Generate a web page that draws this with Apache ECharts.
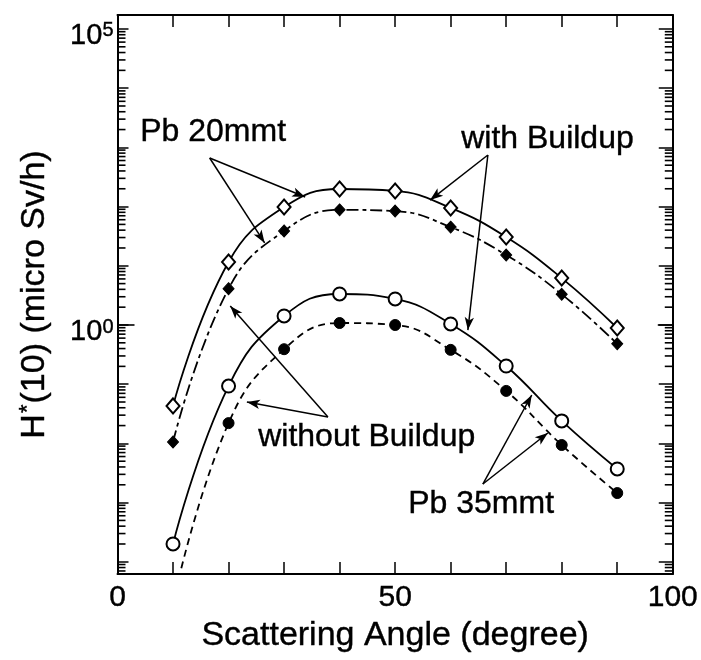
<!DOCTYPE html>
<html>
<head>
<meta charset="utf-8">
<script src="https://cdn.jsdelivr.net/npm/echarts@6/dist/echarts.min.js"></script>
<style>
  html, body { margin: 0; padding: 0; background: #fff; }
  #chart { width: 701px; height: 660px; }
</style>
</head>
<body>
<div id="chart"></div>
<script>
// Scattering angle (degree)
const angles = [10, 20, 30, 40, 50, 60, 70, 80, 90];

// H*(10) dose rate (micro Sv/h)
const pb20With    = [0.043, 11.6, 98, 198, 184, 95, 30.6, 6.2, 0.89];
const pb20Without = [0.0106, 4.1, 38.7, 88, 84, 45, 15.2, 3.3, 0.48];
const pb35With    = [2.0e-4, 0.093, 1.42, 3.34, 2.75, 1.04, 0.203, 0.024, 0.0037];
const pb35Without = [2.0e-5, 0.022, 0.39, 1.08, 1.0, 0.38, 0.077, 0.0094, 0.00145];

// Axis labels
const xTickLabels = [0, 50, 100];
const yTickLabels = [1, 1e5];

// Callout arrows: [fromAngle, fromValue, toAngle, toValue]
const arrowsPb20    = [[16.6, 662, 33.8, 145], [16.6, 662, 26.5, 24.3]];
const arrowsWith    = [[66.7, 744, 56.3, 129], [66.7, 744, 63.1, 0.82]];
const arrowsWithout = [[37.9, 0.028, 20.3, 2.09], [37.9, 0.028, 23.3, 0.05]];
const arrowsPb35    = [[65.8, 0.00206, 74.6, 0.0657], [65.8, 0.00206, 77.5, 0.015]];

const FONT = '"Liberation Sans", Arial, Helvetica, sans-serif';
const INK = { color: '#000', textBorderColor: '#000', textBorderWidth: 0.4 };
const Y_MIN = Math.pow(10, -4.206);
const Y_MAX = Math.pow(10, 5.236);

const decades = [];
const minors = [];
for (let n = -5; n <= 5; n++) {
  decades.push(Math.pow(10, n));
  for (let k = 2; k <= 9; k++) {
    const v = k * Math.pow(10, n);
    if (v > Y_MIN && v < Y_MAX) minors.push(v);
  }
}

function pairs(ys) { return angles.map((a, i) => [a, ys[i]]); }

function arrowData(list) {
  return list.map(a => [
    { coord: [a[0], a[1]], symbol: 'none' },
    { coord: [a[2], a[3]], symbol: 'arrow', symbolSize: [7, 13] }
  ]);
}

function yAx(pos, len) {
  return {
    type: 'log', logBase: 10, min: Y_MIN, max: Y_MAX, position: pos,
    splitLine: { show: false },
    axisLabel: { show: false },
    axisLine: { show: true, onZero: false, lineStyle: { color: '#000', width: 2 } },
    axisTick: { show: true, inside: true, length: len, customValues: decades,
                lineStyle: { color: '#000', width: 1.5 } }
  };
}

function xAx(pos) {
  return {
    type: 'value', position: pos, min: 0, max: 100, interval: 10,
    axisLine: { show: true, onZero: false, lineStyle: { color: '#000', width: 2 } },
    axisTick: { show: true, inside: true, length: 12, lineStyle: { color: '#000', width: 1.5 } },
    splitLine: { show: false },
    axisLabel: { show: false }
  };
}

const chart = echarts.init(document.getElementById('chart'), null, { renderer: 'canvas' });

const lineCommon = {
  type: 'line', smooth: 0.45, clip: true, xAxisIndex: 0, yAxisIndex: 0,
  z: 3, animation: false
};

const leftMain = yAx('left', 11);
leftMain.axisLabel = {
  show: true, customValues: yTickLabels, margin: 4, padding: [14, 0, 0, 0],
  formatter: v => '{b|10}{s|' + Math.round(Math.log10(v)) + '}',
  rich: {
    b: Object.assign({ fontSize: 29, lineHeight: 30, fontFamily: FONT }, INK),
    s: Object.assign({ fontSize: 20, lineHeight: 20, fontFamily: FONT,
         verticalAlign: 'top', padding: [0, 0, 26, 0] }, INK)
  }
};
leftMain.name = '{m|H}{s|*}{m|(10) (micro Sv/h)}';
leftMain.nameLocation = 'middle';
leftMain.nameGap = 62;
leftMain.nameTextStyle = {
  rich: {
    m: Object.assign({ fontSize: 34, lineHeight: 36, fontFamily: FONT }, INK),
    s: Object.assign({ fontSize: 22, lineHeight: 20, fontFamily: FONT,
         verticalAlign: 'top', padding: [0, 1, 20, 1] }, INK)
  }
};

const bottomMain = xAx('bottom');
bottomMain.axisLabel = Object.assign({
  show: true, margin: 9, fontSize: 30, fontFamily: FONT,
  showMinLabel: true, showMaxLabel: true,
  formatter: v => (xTickLabels.indexOf(v) >= 0 ? String(v) : '')
}, INK);
bottomMain.name = 'Scattering Angle (degree)';
bottomMain.nameLocation = 'middle';
bottomMain.nameGap = 43;
bottomMain.nameTextStyle = Object.assign({ fontSize: 34, fontFamily: FONT }, INK);

function note(text, left, top) {
  return { type: 'text', left: left, top: top, z: 10,
           style: { text: text, font: '32px ' + FONT, fill: '#000',
                    stroke: '#000', lineWidth: 0.4 } };
}

// Minor log ticks (2..9 per decade) on both frame sides, plus the long tick at 10^0
function renderLogTicks(params, api) {
  const v = api.value(1);
  const left = api.coord([0, v]);
  const right = api.coord([100, v]);
  const isUnit = Math.abs(v - 1) < 1e-9;
  const lenL = isUnit ? 17 : 8;
  const lenR = isUnit ? 15 : 8;
  const st = { stroke: '#000', lineWidth: 1.6 };
  return {
    type: 'group',
    children: [
      { type: 'line', shape: { x1: left[0], y1: left[1], x2: left[0] + lenL, y2: left[1] }, style: st },
      { type: 'line', shape: { x1: right[0], y1: right[1], x2: right[0] - lenR, y2: right[1] }, style: st }
    ]
  };
}

chart.setOption({
  animation: false,
  backgroundColor: '#fff',
  textStyle: { fontFamily: FONT, color: '#000' },
  grid: { left: 117.5, right: 28, top: 15, bottom: 86 },
  xAxis: [bottomMain, xAx('top')],
  yAxis: [leftMain, yAx('right', 14)],
  graphic: [
    note('Pb 20mmt', 140, 116),
    note('with Buildup', 461, 123),
    note('without Buildup', 258, 421),
    note('Pb 35mmt', 408, 488)
  ],
  series: [
    {
      type: 'custom', name: 'log ticks', xAxisIndex: 0, yAxisIndex: 0,
      coordinateSystem: 'cartesian2d',
      clip: false, silent: true, z: 5, animation: false,
      encode: { x: 0, y: 1 },
      data: minors.concat([1]).map(v => [0, v]),
      renderItem: renderLogTicks
    },
    Object.assign({}, lineCommon, {
      name: 'Pb 20mmt with Buildup', data: pairs(pb20With),
      symbol: 'diamond', symbolSize: [13, 15],
      lineStyle: { color: '#000', width: 1.8, type: 'solid' },
      itemStyle: { color: '#fff', borderColor: '#000', borderWidth: 2 },
      markLine: {
        silent: true, animation: false, symbol: ['none', 'arrow'],
        label: { show: false },
        lineStyle: { color: '#000', width: 1.5, type: 'solid' },
        emphasis: { disabled: true },
        data: arrowData(arrowsPb20.concat(arrowsWith, arrowsWithout, arrowsPb35))
      }
    }),
    Object.assign({}, lineCommon, {
      name: 'Pb 20mmt without Buildup', data: pairs(pb20Without),
      symbol: 'diamond', symbolSize: [11, 12],
      lineStyle: { color: '#000', width: 1.8, type: [12, 4, 4, 4] },
      itemStyle: { color: '#000', borderColor: '#000', borderWidth: 1 }
    }),
    Object.assign({}, lineCommon, {
      name: 'Pb 35mmt with Buildup', data: pairs(pb35With),
      symbol: 'circle', symbolSize: 13,
      lineStyle: { color: '#000', width: 1.8, type: 'solid' },
      itemStyle: { color: '#fff', borderColor: '#000', borderWidth: 2 }
    }),
    Object.assign({}, lineCommon, {
      name: 'Pb 35mmt without Buildup', data: pairs(pb35Without),
      symbol: 'circle', symbolSize: 11,
      lineStyle: { color: '#000', width: 1.8, type: [7, 5] },
      itemStyle: { color: '#000', borderColor: '#000', borderWidth: 1 }
    })
  ]
});
</script>
</body>
</html>
